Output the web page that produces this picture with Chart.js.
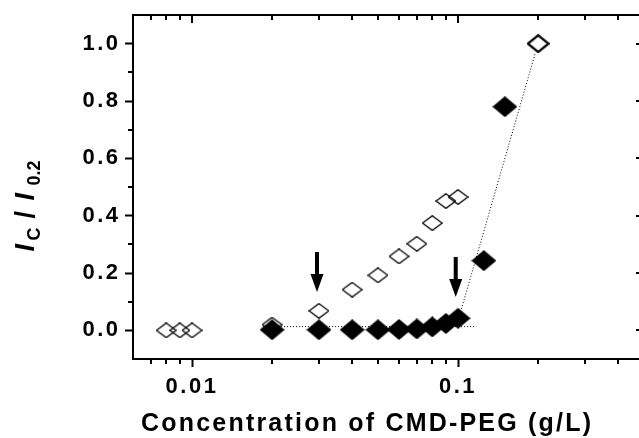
<!DOCTYPE html>
<html>
<head>
<meta charset="utf-8">
<script src="https://cdn.jsdelivr.net/npm/chart.js@4.4.0/dist/chart.umd.min.js"></script>
<style>
html,body{margin:0;padding:0;overflow:hidden;background:#fff;width:639px;height:438px;}
canvas{display:block;}
</style>
</head>
<body>
<canvas id="c" width="660" height="438"></canvas>
<script>
// ---- data ----
const openX   = [0.008, 0.009, 0.01, 0.02, 0.03, 0.04, 0.05, 0.06, 0.07, 0.08, 0.09, 0.1, 0.2];
const openY   = [0, 0, 0, 0.02, 0.068, 0.142, 0.192, 0.258, 0.302, 0.374, 0.451, 0.465, 1.0];
const filledX = [0.02, 0.03, 0.04, 0.05, 0.06, 0.07, 0.08, 0.09, 0.1, 0.125, 0.15];
const filledY = [0.002, 0.002, 0.002, 0.002, 0.003, 0.005, 0.012, 0.024, 0.042, 0.243, 0.78];
const flatLineX = [0.0185, 0.117];
const flatLineY = [0.013, 0.013];
const riseLineX = [0.103, 0.1955];
const riseLineY = [0.075, 0.97];
const arrowX    = [0.0295, 0.098];
const arrowTopY = [0.273, 0.256];
const arrowTipY = [0.134, 0.116];
const xMajorTicks = [0.01, 0.1];
const xTickLabels = ['0.01', '0.1'];
const xMinorTicks = [0.007, 0.008, 0.009, 0.02, 0.03, 0.04, 0.05, 0.06, 0.07, 0.08, 0.09, 0.2, 0.3, 0.4];
const yMajorTicks = [0, 0.2, 0.4, 0.6, 0.8, 1.0];
const yTickLabels = ['0.0', '0.2', '0.4', '0.6', '0.8', '1.0'];
const yMinorTicks = [0.1, 0.3, 0.5, 0.7, 0.9];
const xTitle = 'Concentration of CMD-PEG (g/L)';

const FAM = '"Liberation Sans", Arial, Helvetica, sans-serif';

function diamond(w, h, fill, lw) {
  const c = document.createElement('canvas');
  c.width = w; c.height = h;
  const g = c.getContext('2d');
  const m = lw / 2;
  g.beginPath();
  g.moveTo(w / 2, m); g.lineTo(w - m, h / 2); g.lineTo(w / 2, h - m); g.lineTo(m, h / 2);
  g.closePath();
  if (fill) { g.fillStyle = '#000'; g.fill(); }
  if (lw) { g.lineWidth = lw; g.strokeStyle = '#000'; g.stroke(); }
  return c;
}
const openDia = diamond(21, 16, false, 1.3);
const openDiaBold = diamond(23, 19, false, 2.3);
const fillDia = diamond(25, 21, true, 0);

const pts = (xs, ys) => xs.map((x, i) => ({x: x, y: ys[i]}));

const decor = {
  id: 'decor',
  beforeDraw(chart) {
    const ctx = chart.ctx;
    ctx.save();
    ctx.fillStyle = '#fff';
    ctx.fillRect(0, 0, chart.width, chart.height);
    ctx.restore();
    ctx.letterSpacing = '2.5px';
  },
  afterDraw(chart) {
    const ctx = chart.ctx;
    const a = chart.chartArea;
    const xs = chart.scales.x, ys = chart.scales.y;
    ctx.save();
    ctx.strokeStyle = '#000';
    ctx.fillStyle = '#000';
    // top and right frame lines
    ctx.lineWidth = 2;
    ctx.beginPath();
    ctx.moveTo(a.left - 1, a.top); ctx.lineTo(a.right, a.top);
    ctx.moveTo(a.right, a.top); ctx.lineTo(a.right, a.bottom);
    ctx.stroke();
    // minor ticks bottom (outward) and top (inward)
    ctx.beginPath();
    xMinorTicks.forEach(v => {
      const px = Math.round(xs.getPixelForValue(v));
      ctx.moveTo(px, a.bottom); ctx.lineTo(px, a.bottom + 5);
      ctx.moveTo(px, a.top); ctx.lineTo(px, a.top + 5);
    });
    xMajorTicks.forEach(v => {
      const px = Math.round(xs.getPixelForValue(v));
      ctx.moveTo(px, a.top); ctx.lineTo(px, a.top + 8);
    });
    yMinorTicks.forEach(v => {
      const py = Math.round(ys.getPixelForValue(v));
      ctx.moveTo(a.left, py); ctx.lineTo(a.left - 5, py);
      ctx.moveTo(a.right, py); ctx.lineTo(a.right - 5, py);
    });
    yMajorTicks.forEach(v => {
      const py = Math.round(ys.getPixelForValue(v));
      ctx.moveTo(a.right, py); ctx.lineTo(a.right - 8, py);
    });
    ctx.stroke();
    // arrows
    arrowX.forEach((v, i) => {
      const px = xs.getPixelForValue(v);
      const yt = ys.getPixelForValue(arrowTopY[i]);
      const yp = ys.getPixelForValue(arrowTipY[i]);
      const head = 18;
      ctx.fillRect(px - 2, yt, 4, (yp - yt) - head + 1);
      ctx.beginPath();
      ctx.moveTo(px - 6.5, yp - head); ctx.lineTo(px + 6.5, yp - head); ctx.lineTo(px, yp);
      ctx.closePath(); ctx.fill();
    });
    // x axis title
    ctx.font = 'bold 25px ' + FAM;
    ctx.letterSpacing = '0px';
    const w0 = ctx.measureText(xTitle).width;
    const target = 450;
    const ls = (target - w0) / (xTitle.length - 1);
    ctx.letterSpacing = ls + 'px';
    ctx.textAlign = 'left';
    ctx.textBaseline = 'alphabetic';
    ctx.fillText(xTitle, 366 - target / 2, 431);
    // y axis title: I_C / I_0.2
    ctx.letterSpacing = '0px';
    ctx.translate(34, 203.5);
    ctx.rotate(-Math.PI / 2);
    const main = 'italic bold 27px ' + FAM;
    const mainUp = 'bold 27px ' + FAM;
    const sub = 'bold 18px ' + FAM;
    ctx.font = main; ctx.fillText('I', -48, 0);
    ctx.font = sub; ctx.fillText('C', -37, 6);
    ctx.font = mainUp; ctx.fillText('/', -15, 0);
    ctx.font = main; ctx.fillText('I', 3, 0);
    ctx.font = sub; ctx.fillText('0.2', 18, 6);
    ctx.restore();
  }
};

new Chart(document.getElementById('c'), {
  type: 'scatter',
  data: {
    datasets: [
      { label: 'filled', data: pts(filledX, filledY), pointStyle: fillDia, pointRadius: 10, order: 0, showLine: false },
      { label: 'open', data: pts(openX, openY),
        pointStyle: (c) => c.dataIndex === openX.length - 1 ? openDiaBold : openDia,
        pointRadius: 10, order: 1, showLine: false },
      { label: 'flat', data: pts(flatLineX, flatLineY), showLine: true, pointRadius: 0,
        borderColor: '#000', borderWidth: 1, borderDash: [1, 2], order: 2 },
      { label: 'rise', data: pts(riseLineX, riseLineY), showLine: true, pointRadius: 0,
        borderColor: '#000', borderWidth: 1, borderDash: [1, 2], order: 2 }
    ]
  },
  options: {
    responsive: false,
    animation: false,
    devicePixelRatio: 1,
    layout: { padding: { left: 0, top: 15, right: 16, bottom: 0 } },
    plugins: { legend: { display: false }, tooltip: { enabled: false } },
    scales: {
      x: {
        type: 'logarithmic', min: 0.006, max: 0.5, position: 'bottom',
        afterBuildTicks: (s) => { s.ticks = xMajorTicks.map(v => ({ value: v })); },
        afterFit: (s) => { s.height = 79; s.paddingLeft = 0; s.paddingRight = 0; },
        grid: { display: true, drawOnChartArea: false, drawTicks: true, tickLength: 8, tickWidth: 2, tickColor: '#000', color: '#000' },
        border: { display: true, color: '#000', width: 2 },
        ticks: { callback: (v, i) => xTickLabels[i], color: '#000', padding: 7, maxRotation: 0, autoSkip: false,
                 font: { family: FAM, size: 22, weight: 'bold' } }
      },
      y: {
        type: 'linear', min: -0.1, max: 1.1,
        afterBuildTicks: (s) => { s.ticks = yMajorTicks.map(v => ({ value: v })); },
        afterFit: (s) => { s.width = 133; s.paddingTop = 0; s.paddingBottom = 0; },
        grid: { display: true, drawOnChartArea: false, drawTicks: true, tickLength: 8, tickWidth: 2, tickColor: '#000', color: '#000' },
        border: { display: true, color: '#000', width: 2 },
        ticks: { callback: (v, i) => yTickLabels[i], color: '#000', padding: 4.5, autoSkip: false,
                 font: { family: FAM, size: 22, weight: 'bold' } }
      }
    }
  },
  plugins: [decor]
});
</script>
</body>
</html>
